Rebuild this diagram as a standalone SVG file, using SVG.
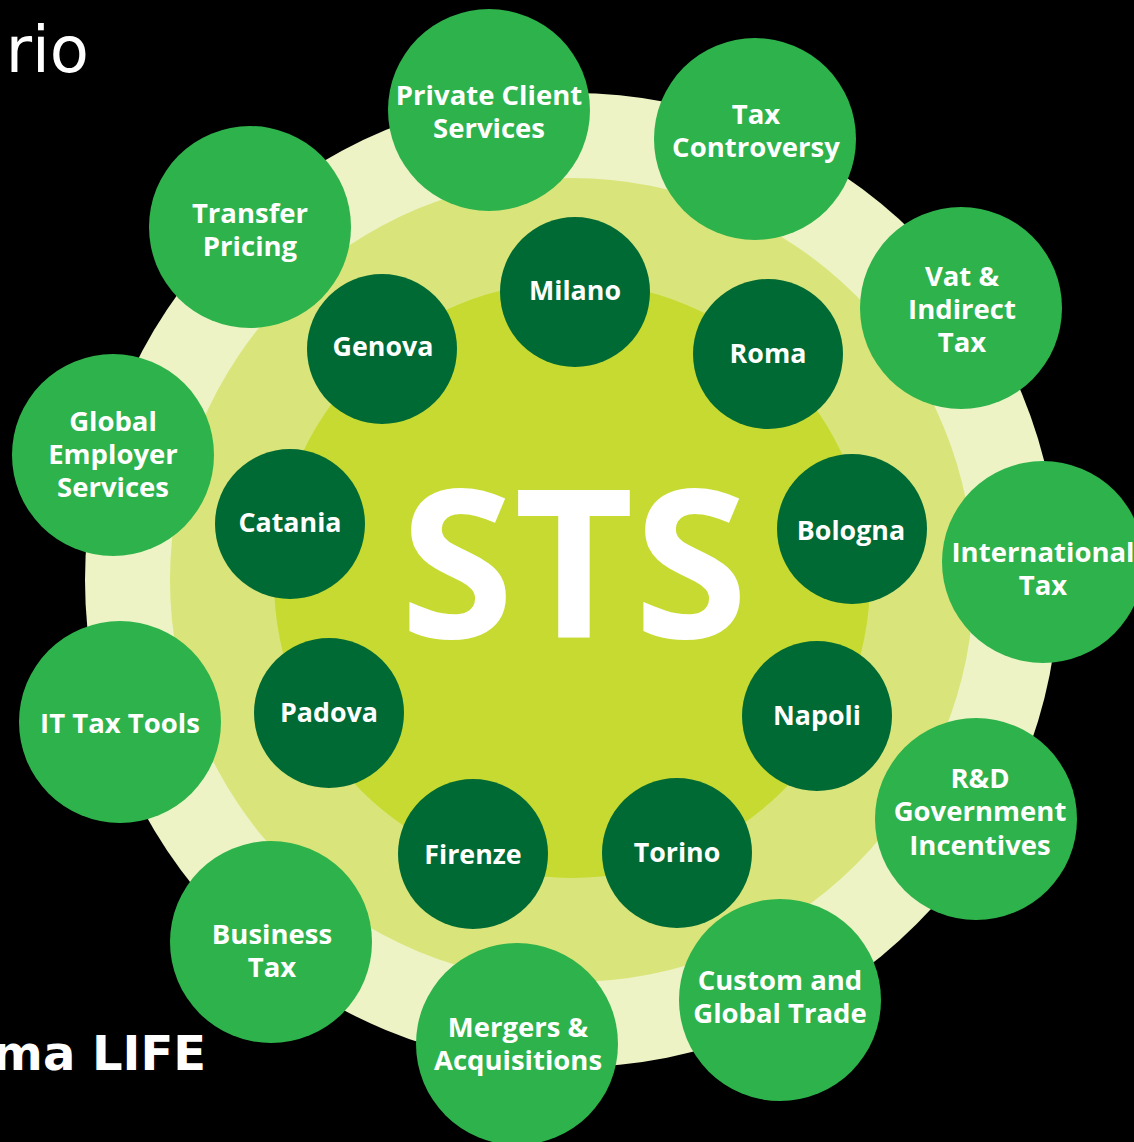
<svg xmlns="http://www.w3.org/2000/svg" width="1134" height="1142" viewBox="0 0 1134 1142">
<style>
.svc{fill:#2eb24b}
.city{fill:#006a35}
.t{font-family:"Open Sans","Liberation Sans",sans-serif;font-weight:700;fill:#fff;text-anchor:middle}
.ts{font-size:27.5px}
.tc{font-size:26.8px}
</style>
<rect width="1134" height="1142" fill="#000"/>
<g id="rings">
<circle cx="572" cy="580" r="487" fill="#edf3c5"/>
<circle cx="572" cy="580" r="402" fill="#d9e57a"/>
<circle cx="572" cy="580" r="298" fill="#c6da31"/>
</g>
<text x="89" y="72" font-family="DejaVu Sans,Verdana,sans-serif" font-size="64" fill="#fff" text-anchor="end">rio</text>
<text x="206" y="1070" font-family="DejaVu Sans,Verdana,sans-serif" font-weight="700" font-size="48" fill="#fff" text-anchor="end">ma LIFE</text>
<g id="connectors"></g>
<g id="sts"><text class="t" x="574" y="638" font-size="207">STS</text></g>
<g id="milano"><circle class="city" cx="575" cy="292" r="75"/><text class="t tc" x="575" y="300">Milano</text></g>
<g id="genova"><circle class="city" cx="382" cy="349" r="75"/><text class="t tc" x="383" y="356">Genova</text></g>
<g id="roma"><circle class="city" cx="768" cy="354" r="75"/><text class="t tc" x="768" y="363">Roma</text></g>
<g id="catania"><circle class="city" cx="290" cy="524" r="75"/><text class="t tc" x="290" y="532">Catania</text></g>
<g id="bologna"><circle class="city" cx="852" cy="529" r="75"/><text class="t tc" x="851" y="540">Bologna</text></g>
<g id="padova"><circle class="city" cx="329" cy="713" r="75"/><text class="t tc" x="329" y="722">Padova</text></g>
<g id="napoli"><circle class="city" cx="817" cy="716" r="75"/><text class="t tc" x="817" y="725">Napoli</text></g>
<g id="firenze"><circle class="city" cx="473" cy="854" r="75"/><text class="t tc" x="473" y="864">Firenze</text></g>
<g id="torino"><circle class="city" cx="677" cy="853" r="75"/><text class="t tc" x="677" y="862">Torino</text></g>
<g id="private-client"><circle class="svc" cx="489" cy="110" r="101"/><text class="t ts" x="489" y="105">Private Client</text><text class="t ts" x="489" y="138">Services</text></g>
<g id="tax-controversy"><circle class="svc" cx="755" cy="139" r="101"/><text class="t ts" x="756" y="124">Tax</text><text class="t ts" x="756" y="157">Controversy</text></g>
<g id="transfer-pricing"><circle class="svc" cx="250" cy="227" r="101"/><text class="t ts" x="250" y="223">Transfer</text><text class="t ts" x="250" y="256">Pricing</text></g>
<g id="vat"><circle class="svc" cx="961" cy="308" r="101"/><text class="t ts" x="962" y="286">Vat &amp;</text><text class="t ts" x="962" y="319">Indirect</text><text class="t ts" x="962" y="352">Tax</text></g>
<g id="global-employer"><circle class="svc" cx="113" cy="455" r="101"/><text class="t ts" x="113" y="431">Global</text><text class="t ts" x="113" y="464">Employer</text><text class="t ts" x="113" y="497">Services</text></g>
<g id="international-tax"><circle class="svc" cx="1043" cy="562" r="101"/><text class="t ts" x="1043" y="562">International</text><text class="t ts" x="1043" y="595">Tax</text></g>
<g id="it-tax-tools"><circle class="svc" cx="120" cy="722" r="101"/><text class="t ts" x="120" y="733">IT Tax Tools</text></g>
<g id="rd"><circle class="svc" cx="976" cy="819" r="101"/><text class="t ts" x="980" y="788">R&amp;D</text><text class="t ts" x="980" y="821">Government</text><text class="t ts" x="980" y="855">Incentives</text></g>
<g id="business-tax"><circle class="svc" cx="271" cy="942" r="101"/><text class="t ts" x="272" y="944">Business</text><text class="t ts" x="272" y="977">Tax</text></g>
<g id="custom"><circle class="svc" cx="780" cy="1000" r="101"/><text class="t ts" x="780" y="990">Custom and</text><text class="t ts" x="780" y="1023">Global Trade</text></g>
<g id="mergers"><circle class="svc" cx="517" cy="1044" r="101"/><text class="t ts" x="518" y="1037">Mergers &amp;</text><text class="t ts" x="518" y="1070">Acquisitions</text></g>
</svg>
